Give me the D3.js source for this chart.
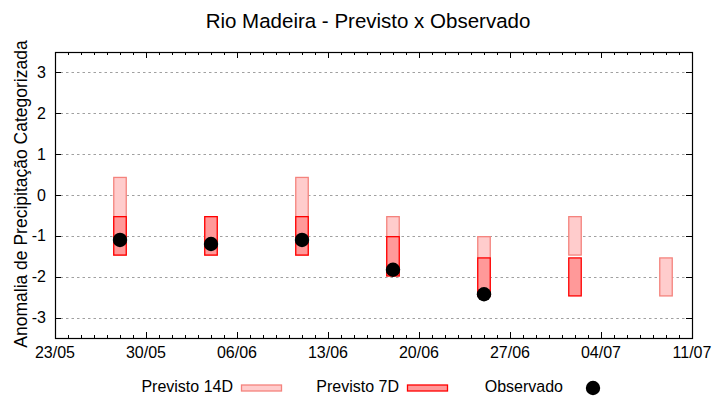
<!DOCTYPE html>
<html>
<head>
<meta charset="utf-8">
<script src="https://cdn.jsdelivr.net/npm/d3@7"></script>
<style>
  body { margin: 0; background: #fff; }
  svg { display: block; }
  text { font-family: "Liberation Sans", Arial, sans-serif; fill: #000; }
</style>
</head>
<body>
<svg id="chart" width="720" height="400"></svg>
<script>
// ---- data ----
const dates      = ["2024-05-28", "2024-06-04", "2024-06-11", "2024-06-18", "2024-06-25", "2024-07-02", "2024-07-09"];
const p14Top     = [0.43, -0.53, 0.43, -0.53, -1.02, -0.53, -1.54];
const p14Bottom  = [-1.47, -1.47, -1.47, -1.98, -2.47, -1.47, -2.47];
const p7Top      = [-0.53, -0.53, -0.53, -1.02, -1.54, -1.54, null];
const p7Bottom   = [-1.47, -1.47, -1.47, -1.98, -2.47, -2.47, null];
const observed   = [-1.10, -1.20, -1.10, -1.83, -2.43, null, null];
const yTicks     = [-3, -2, -1, 0, 1, 2, 3];
const xDomain    = ["2024-05-23", "2024-07-11"];
const title      = "Rio Madeira - Previsto x Observado";
const yLabel     = "Anomalia de Precipitação Categorizada";
const legendLabels = ["Previsto 14D", "Previsto 7D", "Observado"];

// ---- layout ----
const svg = d3.select("#chart");
const L = 55, R = 692, T = 52, B = 338;
const parse = d3.utcParse("%Y-%m-%d");
const x = d3.scaleUtc().domain(xDomain.map(parse)).range([L, R]);
const y = d3.scaleLinear().domain([-3.5, 3.5]).range([B, T]);
const dayPx = x(d3.utcDay.offset(parse(xDomain[0]), 1)) - x(parse(xDomain[0]));
const halfW = dayPx * 0.48;
const FS = 16;

const c14 = { fill: "#ffcccc", stroke: "#f4837d" };
const c7  = { fill: "#ff9999", stroke: "#ff0000" };

// grid
svg.append("g").selectAll("line").data(yTicks).join("line")
  .attr("x1", L).attr("x2", R)
  .attr("y1", d => Math.round(y(d)) + 0.5).attr("y2", d => Math.round(y(d)) + 0.5)
  .attr("stroke", "#a0a0a0").attr("stroke-width", 1).attr("stroke-dasharray", "2.5,3");

// axes with inward ticks
const start = parse(xDomain[0]), end = d3.utcDay.offset(parse(xDomain[1]), 1);
const majorX = d3.utcDays(start, end, 7);
const minorX = d3.utcDays(start, end, 1);

const gx = svg.append("g");
const tick = (sel, cls, data, y0, len) => sel.selectAll("line." + cls).data(data).join("line")
  .attr("class", cls)
  .attr("x1", d => Math.round(x(d)) + 0.5).attr("x2", d => Math.round(x(d)) + 0.5)
  .attr("y1", y0).attr("y2", y0 + len).attr("stroke", "#000");
tick(gx, "minB", minorX, B, -3);
tick(gx, "majB", majorX, B, -6);
tick(gx, "minT", minorX, T, 3);
tick(gx, "majT", majorX, T, 6);

const fmt = d3.utcFormat("%d/%m");
gx.selectAll("text").data(majorX).join("text")
  .attr("x", d => x(d)).attr("y", 358)
  .attr("text-anchor", "middle").attr("font-size", FS)
  .text(d => fmt(d));

// y ticks
const gy = svg.append("g");
gy.selectAll("line.l").data(yTicks).join("line").attr("class", "l")
  .attr("x1", L).attr("x2", L + 6)
  .attr("y1", d => Math.round(y(d)) + 0.5).attr("y2", d => Math.round(y(d)) + 0.5)
  .attr("stroke", "#000");
gy.selectAll("line.r").data(yTicks).join("line").attr("class", "r")
  .attr("x1", R).attr("x2", R - 6)
  .attr("y1", d => Math.round(y(d)) + 0.5).attr("y2", d => Math.round(y(d)) + 0.5)
  .attr("stroke", "#000");
gy.selectAll("text").data(yTicks).join("text")
  .attr("x", 46).attr("y", d => y(d) + 5.5)
  .attr("text-anchor", "end").attr("font-size", FS)
  .text(d => d);

// frame
svg.append("rect").attr("x", L + 0.5).attr("y", T + 0.5)
  .attr("width", R - L).attr("height", B - T)
  .attr("fill", "none").attr("stroke", "#000").attr("stroke-width", 1.2);

// data rows
const rows = dates.map((d, i) => ({
  date: parse(d), t14: p14Top[i], b14: p14Bottom[i],
  t7: p7Top[i], b7: p7Bottom[i], obs: observed[i]
}));

svg.append("g").selectAll("rect").data(rows.filter(r => r.t14 != null)).join("rect")
  .attr("x", r => x(r.date) - halfW).attr("width", halfW * 2)
  .attr("y", r => y(r.t14)).attr("height", r => y(r.b14) - y(r.t14))
  .attr("fill", c14.fill).attr("stroke", c14.stroke).attr("stroke-width", 1.3);

svg.append("g").selectAll("rect").data(rows.filter(r => r.t7 != null)).join("rect")
  .attr("x", r => x(r.date) - halfW).attr("width", halfW * 2)
  .attr("y", r => y(r.t7)).attr("height", r => y(r.b7) - y(r.t7))
  .attr("fill", c7.fill).attr("stroke", c7.stroke).attr("stroke-width", 1.3);

svg.append("g").selectAll("circle").data(rows.filter(r => r.obs != null)).join("circle")
  .attr("cx", r => x(r.date)).attr("cy", r => y(r.obs)).attr("r", 7.2)
  .attr("fill", "#000");

// title
svg.append("text").attr("x", 368).attr("y", 28)
  .attr("text-anchor", "middle").attr("font-size", 20.5)
  .text(title);

// y label
svg.append("text")
  .attr("transform", `translate(27, ${(T + B) / 2 - 1}) rotate(-90)`)
  .attr("text-anchor", "middle").attr("font-size", 17.5)
  .text(yLabel);

// legend
const lg = svg.append("g");
const legY = 388;
lg.append("text").attr("x", 233).attr("y", legY + 4).attr("text-anchor", "end").attr("font-size", FS).text(legendLabels[0]);
lg.append("rect").attr("x", 241.5).attr("y", legY - 3).attr("width", 40).attr("height", 6)
  .attr("fill", c14.fill).attr("stroke", c14.stroke).attr("stroke-width", 1.3);
lg.append("text").attr("x", 399).attr("y", legY + 4).attr("text-anchor", "end").attr("font-size", FS).text(legendLabels[1]);
lg.append("rect").attr("x", 407.5).attr("y", legY - 3).attr("width", 40).attr("height", 6)
  .attr("fill", c7.fill).attr("stroke", c7.stroke).attr("stroke-width", 1.3);
lg.append("text").attr("x", 563).attr("y", legY + 4).attr("text-anchor", "end").attr("font-size", FS).text(legendLabels[2]);
lg.append("circle").attr("cx", 593).attr("cy", legY).attr("r", 7.2).attr("fill", "#000");
</script>
</body>
</html>
